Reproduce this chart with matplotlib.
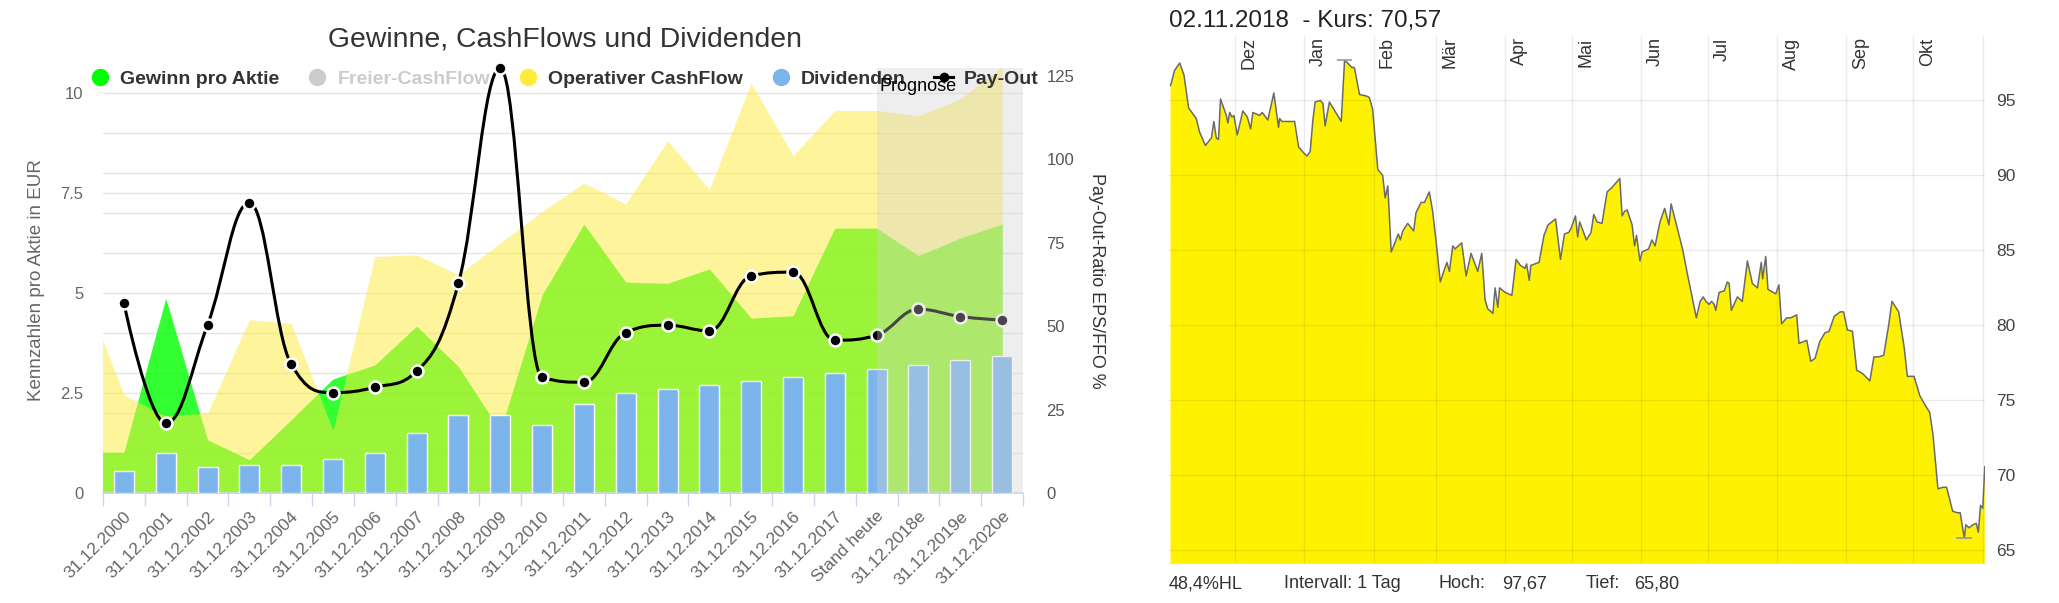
import numpy as np
import matplotlib
matplotlib.use('Agg')
import matplotlib.pyplot as plt
from matplotlib.path import Path
from matplotlib.patches import PathPatch
from matplotlib.lines import Line2D
import matplotlib.transforms as mtransforms
import pandas as pd

plt.rcParams['font.family'] = ['Liberation Sans', 'DejaVu Sans']

# ---------------- data: left chart ----------------
categories = ['31.12.2000', '31.12.2001', '31.12.2002', '31.12.2003', '31.12.2004',
              '31.12.2005', '31.12.2006', '31.12.2007', '31.12.2008', '31.12.2009',
              '31.12.2010', '31.12.2011', '31.12.2012', '31.12.2013', '31.12.2014',
              '31.12.2015', '31.12.2016', '31.12.2017', 'Stand heute', '31.12.2018e',
              '31.12.2019e', '31.12.2020e']
eps_prev = 1.02      # value of the year before the first category (partly visible at the left edge)
eps = [1.02, 4.87, 1.33, 0.83, 1.83, 2.85, 3.20, 4.17, 3.16, 1.55, 4.95,
       6.72, 5.27, 5.24, 5.60, 4.37, 4.43, 6.62, 6.62, 5.93, 6.37, 6.72]
ocf_prev = 5.15
ocf = [2.45, 1.92, 2.00, 4.33, 4.24, 1.56, 5.91, 5.95, 5.45, 6.25, 7.03,
       7.75, 7.22, 8.80, 7.59, 10.24, 8.43, 9.56, 9.56, 9.43, 9.85, 10.65]
dividends = [0.56, 1.01, 0.66, 0.70, 0.70, 0.85, 1.00, 1.51, 1.96, 1.95, 1.70,
             2.22, 2.51, 2.59, 2.70, 2.81, 2.91, 2.99, 3.10, 3.21, 3.32, 3.42]
payout = [56.9, 20.9, 50.4, 87.0, 38.6, 30.1, 31.7, 36.5, 62.9, 127.4, 34.7,
          33.2, 48.1, 50.3, 48.6, 65.1, 66.2, 45.8, 47.3, 55.1, 52.9, 51.8]
forecast_from = 'Stand heute'
left_ticks = [0, 2.5, 5, 7.5, 10]
left_tick_labels = ['0', '2.5', '5', '7.5', '10']
right_ticks = [0, 25, 50, 75, 100, 125]
legend_labels = ['Gewinn pro Aktie', 'Freier-CashFlow', 'Operativer CashFlow', 'Dividenden', 'Pay-Out']

# ---------------- data: right chart ----------------
price_start = '2017-11-02'
price_days = [0, 1.8, 4.1, 6.0, 8.1, 11.5, 13.0, 15.6, 18.3, 19.4, 20.5, 21.5, 22.4, 25.0, 25.7,
              26.5, 27.5, 28.4, 29.9, 32.4, 34.4, 35.9, 36.9, 39.9, 41.1, 43.6, 46.3, 47.4, 48.4,
              48.9, 49.9, 55.6, 57.4, 59.7, 61.2, 62.6, 63.8, 64.8, 67.2, 68.3, 69.3, 71.2, 76.5,
              78.0, 79.4, 81.2, 82.4, 84.7, 87.7, 89.1, 90.6, 92.9, 95.1, 96.2, 97.4, 98.9, 100.3,
              102.1, 103.0, 104.1, 106.3, 109.0, 110.0, 112.3, 113.8, 116.0, 117.5, 119.4, 120.9,
              122.7, 123.9, 125.0, 126.5, 127.5, 130.5, 132.5, 134.7, 137.7, 139.5, 141.0, 142.2,
              144.5, 145.5, 146.7, 147.5, 150.0, 153.0, 154.9, 156.8, 158.9, 159.6, 160.8, 161.5,
              165.2, 167.4, 169.2, 172.6, 174.8, 176.6, 178.5, 179.6, 181.5, 182.5, 183.4, 186.4,
              188.5, 189.7, 191.2, 193.4, 195.7, 197.9, 201.4, 202.4, 203.5, 204.7, 206.9, 208.0,
              208.9, 210.4, 211.4, 214.3, 215.8, 217.2, 219.4, 221.5, 223.4, 224.4, 227.3, 229.5,
              231.6, 235.7, 237.4, 238.8, 240.0, 241.4, 242.5, 243.7, 244.4, 245.9, 248.2, 249.6,
              250.4, 251.4, 254.1, 256.3, 258.6, 260.8, 263.1, 264.8, 265.4, 266.8, 267.8, 271.3,
              272.7, 273.9, 276.2, 278.0, 280.7, 281.7, 285.2, 287.0, 288.9, 291.0, 293.3, 295.2,
              297.5, 300.2, 301.7, 303.4, 305.7, 307.6, 310.1, 313.5, 315.3, 317.5, 319.7, 321.9,
              323.4, 326.4, 328.9, 330.3, 333.3, 335.9, 338.6, 340.3, 341.8, 344.0, 346.2, 347.9,
              350.6, 352.8, 354.0, 355.8, 356.5, 357.9, 359.7, 361.2, 362.1, 363.1, 364.1, 365.0]
price_values = [96.0, 97.0, 97.5, 96.7, 94.5, 93.8, 92.9, 92.0, 92.5, 93.6, 92.5, 92.4, 95.1, 94.0, 93.5,
                94.2, 93.9, 94.0, 92.7, 94.3, 93.9, 93.1, 94.2, 94.0, 94.2, 93.7, 95.5, 94.3, 93.2,
                93.8, 93.6, 93.6, 91.9, 91.5, 91.3, 91.6, 93.7, 94.9, 95.0, 94.8, 93.3, 94.9, 93.6,
                97.67, 97.5, 97.2, 97.2, 95.4, 95.3, 95.2, 94.4, 90.4, 90.0, 88.5, 89.3, 84.9, 85.4,
                86.1, 85.7, 86.3, 86.8, 86.3, 87.5, 88.2, 88.2, 88.9, 87.6, 85.1, 82.9,
                83.7, 84.2, 83.6, 85.3, 85.1, 85.5, 83.3, 84.8, 83.6, 84.8, 81.7, 81.1,
                80.8, 82.5, 81.2, 82.5, 82.2, 82.0, 84.4, 84.0, 83.8, 84.1, 83.0, 84.0,
                84.2, 86.0, 86.7, 87.1, 84.4, 86.1, 86.2, 86.5, 87.3, 85.9, 86.9, 85.7,
                86.2, 87.4, 86.9, 86.8, 88.9, 89.2, 89.8, 87.3, 87.6, 87.7, 86.7, 85.3,
                86.0, 84.3, 84.9, 85.1, 85.7, 85.3, 86.9, 87.8, 86.7, 88.1, 86.4, 85.1,
                83.5, 80.5, 81.6, 81.9, 81.6, 81.4, 81.6, 81.4, 81.0, 82.2, 82.3, 82.9,
                82.8, 81.0, 81.9, 81.6, 84.3, 82.8, 82.5, 84.2, 83.1, 84.6, 82.4, 82.1,
                82.7, 80.1, 80.5, 80.5, 80.7, 78.8, 79.0, 77.6, 77.8, 78.9, 79.5, 79.6,
                80.6, 80.9, 80.9, 79.7, 79.6, 77.0, 76.8, 76.3, 77.9, 77.9, 78.0, 80.0,
                81.6, 80.9, 78.5, 76.6, 76.6, 75.3, 74.6, 74.2, 72.7, 69.1, 69.2, 69.2,
                67.6, 67.5, 67.5, 65.8, 66.7, 66.5, 66.7, 66.8, 66.2, 68.0, 67.8, 70.57]
month_labels = ['Dez', 'Jan', 'Feb', 'Mär', 'Apr', 'Mai', 'Jun', 'Jul', 'Aug', 'Sep', 'Okt', '']
month_starts = ['2017-12-01', '2018-01-01', '2018-02-01', '2018-03-01', '2018-04-01', '2018-05-01',
                '2018-06-01', '2018-07-01', '2018-08-01', '2018-09-01', '2018-10-01', '2018-11-01']
price_ticks = [65, 70, 75, 80, 85, 90, 95]
chart_date = '02.11.2018'
kurs = 70.57
hoch = 97.67
tief = 65.80
hl_pct = 48.4
interval = '1 Tag'


def de(v, d=2):
    return f'{v:.{d}f}'.replace('.', ',')


def hc_spline(xs, ys, smoothing=1.5):
    n = len(xs)
    lc = [None] * n
    rc = [None] * n
    for i in range(n):
        x, y = xs[i], ys[i]
        if 0 < i < n - 1:
            lx, ly = xs[i - 1], ys[i - 1]
            nx, ny = xs[i + 1], ys[i + 1]
            d = smoothing + 1
            lcx = (smoothing * x + lx) / d
            lcy = (smoothing * y + ly) / d
            rcx = (smoothing * x + nx) / d
            rcy = (smoothing * y + ny) / d
            corr = (rcy - lcy) * (rcx - x) / (rcx - lcx) + y - rcy
            lcy += corr
            rcy += corr
            if lcy > ly and lcy > y:
                lcy = max(ly, y); rcy = 2 * y - lcy
            elif lcy < ly and lcy < y:
                lcy = min(ly, y); rcy = 2 * y - lcy
            if rcy > ny and rcy > y:
                rcy = max(ny, y); lcy = 2 * y - rcy
            elif rcy < ny and rcy < y:
                rcy = min(ny, y); lcy = 2 * y - rcy
            lc[i] = (lcx, lcy)
            rc[i] = (rcx, rcy)
        else:
            lc[i] = (x, y)
            rc[i] = (x, y)
    verts = [(xs[0], ys[0])]
    codes = [Path.MOVETO]
    for i in range(1, n):
        verts += [rc[i - 1], lc[i], (xs[i], ys[i])]
        codes += [Path.CURVE4] * 3
    return Path(verts, codes)


W, H = 2059, 603
fig = plt.figure(figsize=(W / 100, H / 100), dpi=100)


def rect(x0, y0, x1, y1):
    return [x0 / W, 1 - y1 / H, (x1 - x0) / W, (y1 - y0) / H]


# ================= left chart =================
ax = fig.add_axes(rect(103, 68, 1023, 493))
ax2 = ax.twinx()
n = len(categories)
xc = np.arange(n)
xa = np.arange(-1, n)

ax.fill_between(xa, [eps_prev] + eps, 0, color='#00ff00', alpha=0.8, lw=0, zorder=1)
ax.fill_between(xa, [ocf_prev] + ocf, 0, color='#fceb3f', alpha=0.52, lw=0, zorder=2)
ax.bar(xc, dividends, width=0.48, color='#7cb5ec', edgecolor='white', linewidth=1.0, zorder=3)
ax.set_xlim(-0.5, n - 0.5)
ax.set_ylim(0, 10.62)
ax.set_yticks(left_ticks, left_tick_labels)
ax.set_yticks(np.arange(1, 11), minor=True)
ax.set_axisbelow(True)
ax.grid(axis='y', which='both', color='#e6e6e6', lw=1.0)
ax.tick_params(axis='y', which='both', length=0, pad=14, labelsize=12, labelcolor='#666666')
for s in ['top', 'left', 'right']:
    ax.spines[s].set_visible(False)
ax.spines['bottom'].set_color('#ccd6eb')
ax.spines['bottom'].set_linewidth(1.2)
ax.set_xticks(np.arange(-0.5, n), [''] * (n + 1))
ax.set_xticks(xc, categories, minor=True)
ax.tick_params(axis='x', which='major', length=9.5, width=1.0, color='#ccd6eb')
ax.tick_params(axis='x', which='minor', length=0, pad=15, labelsize=12.5, labelcolor='#666666')
off = mtransforms.ScaledTranslation(5 / 100, 0, fig.dpi_scale_trans)
for lbl in ax.get_xticklabels(minor=True):
    lbl.set_rotation(45)
    lbl.set_ha('right')
    lbl.set_va('center')
    lbl.set_rotation_mode('anchor')
    lbl.set_transform(lbl.get_transform() + off)
ax.set_ylabel('Kennzahlen pro Aktie in EUR', fontsize=13.5, color='#666666')
ax.yaxis.label.set_va('center')
ax.yaxis.set_label_coords((37 - 103) / 920, 0.5)

ax2.set_ylim(0, 127.4)
ax2.set_yticks(right_ticks, [str(t) for t in right_ticks])
ax2.tick_params(axis='y', length=0, pad=17, labelsize=12, labelcolor='#555555')
for s in ['top', 'left', 'right', 'bottom']:
    ax2.spines[s].set_visible(False)
ax2.set_ylabel('Pay-Out-Ratio EPS/FFO %', rotation=-90, fontsize=12.9, color='#333333',
               va='center', ha='center')
ax2.yaxis.set_label_coords((1097 - 103) / 920, 0.5)

ax2.add_patch(PathPatch(hc_spline(list(xc.astype(float)), payout), fill=False,
                        edgecolor='black', lw=2.2, zorder=3))
ax2.plot(xc, payout, ls='', marker='o', ms=8.6, mfc='black', mec='white', mew=1.8,
         clip_on=False, zorder=4)

f0 = categories.index(forecast_from)
ax2.axvspan(f0, n - 0.5, color=(208 / 255,) * 3, alpha=0.34, lw=0, zorder=5)
ax2.annotate('Prognose', xy=(f0, 1), xycoords=('data', 'axes fraction'), xytext=(2, -13.5),
             textcoords='offset points', ha='left', va='center', fontsize=13, color='black',
             zorder=8)

handles = [Line2D([], [], ls='', marker='o', ms=11.5, mfc='#00ff00', mec='#00ff00'),
           Line2D([], [], ls='', marker='o', ms=11.5, mfc='#cccccc', mec='#cccccc'),
           Line2D([], [], ls='', marker='o', ms=11.5, mfc='#ffeb3b', mec='#ffeb3b'),
           Line2D([], [], ls='', marker='o', ms=11.5, mfc='#7cb5ec', mec='#7cb5ec'),
           Line2D([], [], color='black', lw=2.2, marker='o', ms=6, mfc='black', mec='black')]
leg = ax2.legend(handles, legend_labels, ncol=5, loc='center left',
                 bbox_to_anchor=(90 / W, 1 - 79 / H), bbox_transform=fig.transFigure,
                 frameon=False, borderpad=0, borderaxespad=0, handlelength=1.0,
                 handletextpad=0.55, columnspacing=1.44,
                 prop={'weight': 'bold', 'size': 14})
for t, c in zip(leg.get_texts(), ['#333333', '#cccccc', '#333333', '#333333', '#333333']):
    t.set_color(c)
leg.set_zorder(7)

fig.text(565 / W, 1 - 40 / H, 'Gewinne, CashFlows und Dividenden', ha='center', va='center',
         fontsize=20.4, color='#333333')

# ================= right chart =================
bx = fig.add_axes(rect(1169, 36, 1985, 563))
bx.fill_between(price_days, price_values, 0, color='#fff200', lw=0, zorder=1)
bx.plot(price_days, price_values, color='#6a6a6a', lw=1.1, zorder=3)
bx.set_xlim(-0.7, 365.1)
bx.set_ylim(64.15, 99.3)
start = pd.Timestamp(price_start)
month_pos = [(pd.Timestamp(m) - start).days for m in month_starts]
bx.set_xticks(month_pos, [''] * len(month_pos))
bx.set_yticks(price_ticks, [str(p) for p in price_ticks])
bx.yaxis.tick_right()
bx.tick_params(axis='both', length=0)
bx.tick_params(axis='y', pad=8, labelsize=12.5, labelcolor='#444444')
bx.set_axisbelow(False)
bx.grid(True, color='black', alpha=0.08, lw=1.0, zorder=2)
for s in ['top', 'left', 'right']:
    bx.spines[s].set_visible(False)
bx.spines['bottom'].set_color('#e0e0e0')
for pos, lab in zip(month_pos, month_labels):
    if lab:
        bx.annotate(lab, xy=(pos, 1), xycoords=('data', 'axes fraction'), xytext=(10, -1),
                    textcoords='offset points', rotation=90, ha='center', va='top',
                    fontsize=13, color='#333333')
imax = int(np.argmax(price_values))
imin = int(np.argmin(price_values))
for i in (imax, imin):
    bx.hlines(price_values[i], price_days[i] - 3.5, price_days[i] + 3.5, color='#999999',
              lw=1.2, zorder=4)

fig.text(1169 / W, 1 - 21 / H, f'{chart_date}  - Kurs: {de(kurs)}', ha='left', va='center',
         fontsize=17.5, color='#222222')
yb = 1 - 584 / H
fig.text(1169 / W, yb, f'{de(hl_pct, 1)}%HL', ha='left', va='center', fontsize=13, color='#333333')
fig.text(1284.5 / W, yb, f'Intervall: {interval}', ha='left', va='center', fontsize=13, color='#333333')
fig.text(1438.7 / W, yb, 'Hoch:', ha='left', va='center', fontsize=13, color='#333333')
fig.text(1502.5 / W, yb, de(hoch), ha='left', va='center', fontsize=13, color='#333333')
fig.text(1586 / W, yb, 'Tief:', ha='left', va='center', fontsize=13, color='#333333')
fig.text(1634 / W, yb, de(tief), ha='left', va='center', fontsize=13, color='#333333')

fig.savefig('out.png', dpi=100)
